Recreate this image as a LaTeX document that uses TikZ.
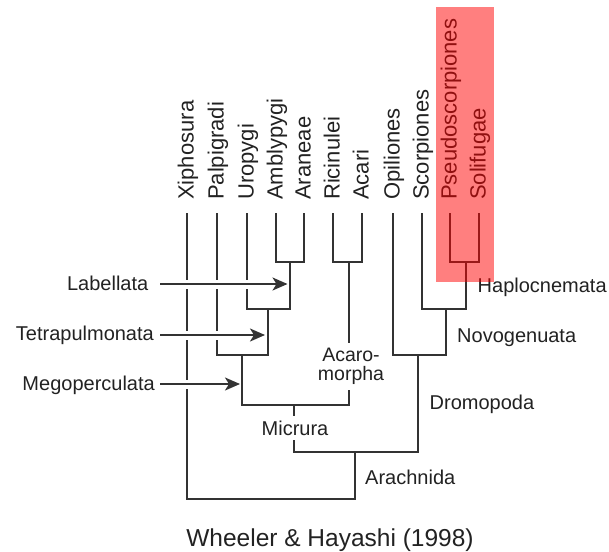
\documentclass[tikz,border=0pt]{standalone}
\usepackage{fontspec}
\setmainfont{Liberation Sans}
\usetikzlibrary{arrows.meta}
\definecolor{ink}{HTML}{333333}
\definecolor{txt}{HTML}{222222}
\begin{document}
\begin{tikzpicture}[x=1pt,y=-1pt,
  branch/.style={draw=ink, line width=2pt, line cap=rect},
  taxon/.style={rotate=90, anchor=base west, inner sep=0pt, text=txt, font=\fontsize{22}{26}\selectfont},
  clade/.style={anchor=base west, inner sep=0pt, text=txt, font=\fontsize{20}{24}\selectfont},
  leftlab/.style={anchor=base east, inner sep=0pt, text=txt, font=\fontsize{20}{24}\selectfont},
  cutlab/.style={fill=white, inner sep=0pt, text=txt, font=\fontsize{19.5}{19}\selectfont, align=center},
  arr/.style={draw=ink, line width=2pt, -{Stealth[length=15pt,width=13pt,inset=4pt]},
    preaction={draw=white, line width=9pt, -, shorten >=14pt}},
  highlight/.style={fill=red, fill opacity=0.5, draw=none}]
\useasboundingbox (0,0) rectangle (609,551);
% leaf tops
\coordinate (Xi) at (187,214);
\coordinate (Pa) at (217,214);
\coordinate (Ur) at (247,214);
\coordinate (Am) at (276,214);
\coordinate (Ar) at (304,214);
\coordinate (Ri) at (333,214);
\coordinate (Ac) at (362,214);
\coordinate (Op) at (393,214);
\coordinate (Sc) at (422,214);
\coordinate (Ps) at (450,214);
\coordinate (So) at (479,214);
% taxon labels
\node[taxon] (tXi) at (193.6,200) {Xiphosura};
\node[taxon] (tPa) at (223.6,200) {Palpigradi};
\node[taxon] (tUr) at (253.6,200) {Uropygi};
\node[taxon] (tAm) at (282.6,200) {Amblypygi};
\node[taxon] (tAr) at (310.6,200) {Araneae};
\node[taxon] (tRi) at (339.6,200) {Ricinulei};
\node[taxon] (tAc) at (368.6,200) {Acari};
\node[taxon] (tOp) at (399.6,200) {Opiliones};
\node[taxon] (tSc) at (428.6,200) {Scorpiones};
\node[taxon] (tPs) at (456.6,200) {Pseudoscorpiones};
\node[taxon] (tSo) at (485.6,200) {Solifugae};
% internal nodes
\coordinate (Lab) at (290,262);
\coordinate (Tet) at (268,309);
\coordinate (Meg) at (242,355);
\coordinate (Aca) at (349,262);
\coordinate (Mic) at (294,405);
\coordinate (Hap) at (466,262);
\coordinate (Nov) at (446,309);
\coordinate (Dro) at (418,355);
\coordinate (Ara) at (355,452);
\coordinate (Root) at (355,499);
% branches
\draw[branch] (Am) |- (Lab) -| (Ar);
\draw[branch] (Ur) |- (Tet) -| (Lab);
\draw[branch] (Pa) |- (Meg) -| (Tet);
\draw[branch] (Ri) |- (Aca) -| (Ac);
\draw[branch] (Meg) |- (Mic) -| (Aca);
\draw[branch] (Ps) |- (Hap) -| (So);
\draw[branch] (Sc) |- (Nov) -| (Hap);
\draw[branch] (Op) |- (Dro) -| (Nov);
\draw[branch] (Mic) |- (Ara) -| (Dro);
\draw[branch] (Xi) |- (Root) -- (Ara);
% labels cutting branches
\node[cutlab, minimum height=47pt, minimum width=72pt] (lAca) at (351,366.5) {Acaro-\\morpha};
\node[cutlab, minimum height=24pt, minimum width=70pt, font=\fontsize{20}{24}\selectfont] (lMic) at (295,428) {Micrura};
% clade labels on the right
\node[clade] (lHap) at (477.5,292) {Haplocnemata};
\node[clade] (lNov) at (457,342) {Novogenuata};
\node[clade] (lDro) at (429.5,409.5) {Dromopoda};
\node[clade] (lAra) at (365,484) {Arachnida};
% left labels with arrows
\node[leftlab] (lLab) at (148.5,290.7) {Labellata};
\node[leftlab] (lTet) at (154,340) {Tetrapulmonata};
\node[leftlab] (lMeg) at (155,390.7) {Megoperculata};
\coordinate (sLab) at (160,284);
\coordinate (eLab) at (287.5,284);
\coordinate (sTet) at (160,335);
\coordinate (eTet) at (265,335);
\coordinate (sMeg) at (160,384);
\coordinate (eMeg) at (240,384);
\draw[arr] (sLab) -- (eLab);
\draw[arr] (sTet) -- (eTet);
\draw[arr] (sMeg) -- (eMeg);
% citation
\node[text=txt, font=\fontsize{24.5}{28}\selectfont, anchor=base, inner sep=0pt] (cite) at (330,546.5) {Wheeler \& Hayashi (1998)};
% highlight box
\fill[highlight] (436,7) rectangle (494,282);
\end{tikzpicture}
\end{document}
